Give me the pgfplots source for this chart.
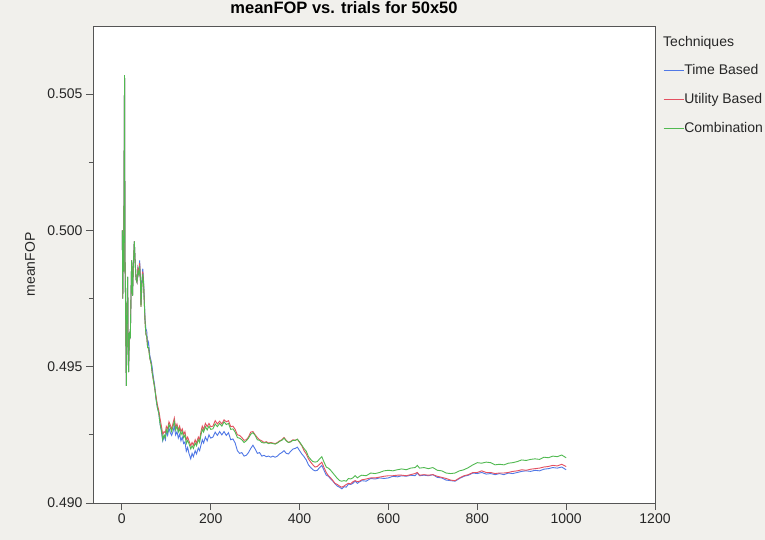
\documentclass[border=0pt]{standalone}
\usepackage{fontspec}
\setmainfont{Liberation Sans}
\usepackage{pgfplots}
\pgfplotsset{compat=1.18}
\usepackage{pgfplotstable}
\definecolor{bg}{RGB}{241,240,236}
\definecolor{cT}{RGB}{80,120,230}
\definecolor{cU}{RGB}{228,80,96}
\definecolor{cC}{RGB}{80,185,80}
\definecolor{axc}{RGB}{85,85,85}

\pgfplotstableread{
x T U C
1 0.5000 0.5000 0.5000
2 0.4975 0.4975 0.4975
3 0.4998 0.4998 0.4998
4 0.4985 0.4985 0.4985
6 0.5057 0.5057 0.5057
7 0.4990 0.4990 0.4990
8 0.4978 0.4978 0.4978
10 0.4943 0.4943 0.4943
11 0.4965 0.4965 0.4965
13 0.4983 0.4983 0.4983
14 0.4960 0.4960 0.4960
15 0.4948 0.4948 0.4948
17 0.4962 0.4962 0.4962
19 0.4961 0.4961 0.4961
21 0.4980 0.4980 0.4980
22 0.4989 0.4989 0.4989
24 0.4976 0.4976 0.4976
26 0.4988 0.4988 0.4988
28 0.4996 0.4996 0.4996
30 0.4988 0.4988 0.4988
32 0.4982 0.4982 0.4982
34 0.4981 0.4981 0.4981
36 0.4986 0.4986 0.4985
38 0.4984 0.4984 0.4984
40 0.4989 0.4988 0.4987
42 0.4982 0.4981 0.4981
43 0.4973 0.4972 0.4972
45 0.4981 0.4980 0.4980
47 0.4986 0.4985 0.4984
49 0.4981 0.4980 0.4980
52 0.4968 0.4967 0.4967
54 0.4964 0.4962 0.4962
56 0.4963 0.4961 0.4961
58 0.4958 0.4957 0.4957
60 0.4959 0.4957 0.4957
63 0.4954 0.4953 0.4953
66 0.4952 0.4951 0.4951
68 0.4950 0.4948 0.4948
71 0.4946 0.4945 0.4945
74 0.4943 0.4942 0.4942
77 0.4938 0.4939 0.4938
80 0.4935 0.4936 0.4935
83 0.4933 0.4934 0.4933
86 0.4929 0.4931 0.4929
89 0.49262 0.49282 0.49268
92 0.49228 0.49252 0.49232
95 0.49245 0.49262 0.49250
98 0.49232 0.49258 0.49240
100 0.49262 0.49281 0.49270
103 0.49248 0.49272 0.49258
106 0.49275 0.49298 0.49288
109 0.49258 0.49286 0.49276
112 0.49248 0.49270 0.49262
115 0.49262 0.49292 0.49280
118 0.49282 0.49312 0.49300
121 0.49250 0.49278 0.49268
124 0.49262 0.49290 0.49282
127 0.49238 0.49268 0.49260
130 0.49252 0.49282 0.49272
133 0.49228 0.49262 0.49250
136 0.49242 0.49272 0.49262
139 0.49218 0.49252 0.49240
142 0.49224 0.49262 0.49250
145 0.49190 0.49232 0.49218
148 0.49204 0.49242 0.49230
151 0.49182 0.49228 0.49218
155 0.49162 0.49210 0.49198
158 0.49182 0.49222 0.49210
161 0.49170 0.49212 0.49200
165 0.49192 0.49232 0.49220
168 0.49180 0.49220 0.49210
172 0.49202 0.49242 0.49232
175 0.49192 0.49232 0.49222
178 0.49212 0.49262 0.49250
181 0.49232 0.49282 0.49270
184 0.49220 0.49270 0.49260
188 0.49242 0.49292 0.49280
192 0.49228 0.49280 0.49268
196 0.49250 0.49292 0.49282
200 0.49238 0.49280 0.49270
205 0.49242 0.49282 0.49272
210 0.49260 0.49302 0.49290
215 0.49248 0.49290 0.49280
220 0.49262 0.49300 0.49292
225 0.49250 0.49290 0.49282
230 0.49262 0.49305 0.49298
235 0.49248 0.49298 0.49288
240 0.49258 0.49302 0.49292
245 0.49232 0.49280 0.49270
250 0.49235 0.49282 0.49272
255 0.49220 0.49270 0.49260
260 0.49192 0.49250 0.49240
265 0.49182 0.49248 0.49238
270 0.49185 0.49240 0.49232
275 0.49172 0.49230 0.49222
280 0.49175 0.49232 0.49228
285 0.49185 0.49242 0.49238
290 0.49200 0.49260 0.49252
295 0.49212 0.49262 0.49258
300 0.49198 0.49250 0.49248
305 0.49182 0.49240 0.49232
310 0.49185 0.49232 0.49230
315 0.49172 0.49228 0.49222
320 0.49175 0.49222 0.49220
325 0.49170 0.49225 0.49222
330 0.49172 0.49220 0.49218
335 0.49168 0.49222 0.49220
340 0.49172 0.49220 0.49218
345 0.49168 0.49218 0.49216
350 0.49172 0.49222 0.49220
355 0.49180 0.49228 0.49226
360 0.49185 0.49232 0.49230
365 0.49192 0.49240 0.49238
370 0.49182 0.49230 0.49228
375 0.49180 0.49222 0.49222
380 0.49190 0.49226 0.49224
385 0.49198 0.49232 0.49230
390 0.49200 0.49230 0.49230
395 0.49205 0.49234 0.49234
400 0.49192 0.49222 0.49224
405 0.49180 0.49210 0.49212
410 0.49170 0.49192 0.49200
415 0.49158 0.49180 0.49190
420 0.49140 0.49162 0.49170
425 0.49130 0.49150 0.49160
430 0.49122 0.49140 0.49152
435 0.49118 0.49132 0.49150
440 0.49120 0.49134 0.49152
445 0.49130 0.49142 0.49162
450 0.49138 0.49150 0.49170
455 0.49120 0.49130 0.49150
460 0.49102 0.49112 0.49132
465 0.49098 0.49100 0.49128
470 0.49088 0.49092 0.49120
475 0.49080 0.49082 0.49110
480 0.49070 0.49072 0.49100
485 0.49062 0.49068 0.49090
490 0.49058 0.49062 0.49082
495 0.49052 0.49058 0.49080
500 0.49060 0.49062 0.49082
505 0.49058 0.49068 0.49080
510 0.49070 0.49072 0.49090
515 0.49068 0.49070 0.49088
520 0.49072 0.49078 0.49092
525 0.49080 0.49082 0.49100
530 0.49072 0.49078 0.49092
535 0.49078 0.49080 0.49098
540 0.49082 0.49085 0.49102
550 0.49080 0.49088 0.49100
560 0.49090 0.49092 0.49110
570 0.49088 0.49092 0.49108
580 0.49092 0.49095 0.49112
590 0.49090 0.49098 0.49118
600 0.49092 0.49100 0.49120
610 0.49098 0.49100 0.49118
620 0.49096 0.49102 0.49122
630 0.49100 0.49102 0.49125
640 0.49098 0.49100 0.49122
650 0.49102 0.49104 0.49128
660 0.49100 0.49108 0.49130
665 0.49110 0.49112 0.49138
670 0.49100 0.49102 0.49128
680 0.49102 0.49104 0.49130
690 0.49100 0.49102 0.49126
700 0.49104 0.49104 0.49130
710 0.49094 0.49098 0.49120
720 0.49092 0.49094 0.49118
730 0.49084 0.49090 0.49110
740 0.49082 0.49084 0.49108
750 0.49080 0.49082 0.49110
760 0.49090 0.49092 0.49118
770 0.49098 0.49100 0.49122
780 0.49102 0.49104 0.49130
790 0.49110 0.49112 0.49140
800 0.49108 0.49112 0.49148
810 0.49112 0.49118 0.49146
820 0.49106 0.49112 0.49150
830 0.49108 0.49112 0.49148
840 0.49104 0.49108 0.49140
850 0.49108 0.49110 0.49142
860 0.49104 0.49110 0.49140
870 0.49110 0.49112 0.49146
880 0.49108 0.49116 0.49148
890 0.49112 0.49118 0.49152
900 0.49116 0.49122 0.49158
910 0.49118 0.49120 0.49156
920 0.49116 0.49124 0.49160
930 0.49120 0.49126 0.49162
940 0.49118 0.49128 0.49160
950 0.49124 0.49132 0.49168
960 0.49126 0.49134 0.49166
970 0.49130 0.49138 0.49172
980 0.49128 0.49136 0.49170
990 0.49132 0.49142 0.49176
1000 0.49122 0.49134 0.49166
}\data

\begin{document}
\begin{tikzpicture}[x=1pt,y=1pt]
\fill[bg] (-93,-37) rectangle (672,503);
\begin{axis}[
  at={(0,0)}, anchor=south west,
  scale only axis, width=562pt, height=477pt,
  xmin=-65, xmax=1200, ymin=0.490, ymax=0.5075,
  axis background/.style={fill=white},
  axis line style={axc, line width=0.8pt},
  xtick={0,200,...,1200},
  ytick={0.490,0.495,0.500,0.505},
  minor ytick={0.4925,0.4975,0.5025},
  scaled y ticks=false,
  tick align=outside,
  xtick pos=lower, ytick pos=left,
  major tick length=7pt, minor tick length=4pt,
  every tick/.style={axc, line width=0.8pt},
  yticklabel style={/pgf/number format/fixed, /pgf/number format/fixed zerofill, /pgf/number format/precision=3},
  xticklabel style={/pgf/number format/1000 sep={}},
  /pgf/number format/assume math mode=true,
  ticklabel style={font=\fontsize{14}{16}\selectfont, text=black!85},
  title={meanFOP vs. trials for 50x50},
  title style={font=\bfseries\fontsize{16.5}{19}\selectfont, at={(rel axis cs:0.4466,1.0262)}, anchor=center, inner sep=0pt},
  ylabel={meanFOP},
  ylabel style={font=\fontsize{14}{16}\selectfont, at={(rel axis cs:-0.1121,0.5)}, anchor=center, text=black!85, inner sep=0pt},
  legend image code/.code={\draw[#1, line width=1.3pt] (0pt,0.5pt) -- (20pt,0.5pt);},
  legend style={at={(rel axis cs:1,1)}, anchor=north west, xshift=8pt, yshift=-38.5pt,
    draw=none, fill=none, inner sep=0pt, outer sep=0pt, row sep=16pt,
    font=\fontsize{14}{16}\selectfont,
    nodes={inner sep=0pt, text height=10pt, text depth=3pt, text=black!85},
    /tikz/every even column/.append style={column sep=2pt}},
  legend cell align=left,
]
\addplot[cT, line width=0.9pt] table[x=x, y=T] {\data};
\addlegendentry{Time Based}
\addplot[cU, line width=0.9pt] table[x=x, y=U] {\data};
\addlegendentry{Utility Based}
\addplot[cC, line width=0.9pt] table[x=x, y=C] {\data};
\addlegendentry{Combination}
\end{axis}
\node[anchor=west, font=\fontsize{14}{16}\selectfont, text=black!85, inner sep=0pt] at (570,460) {Techniques};
\end{tikzpicture}
\end{document}
